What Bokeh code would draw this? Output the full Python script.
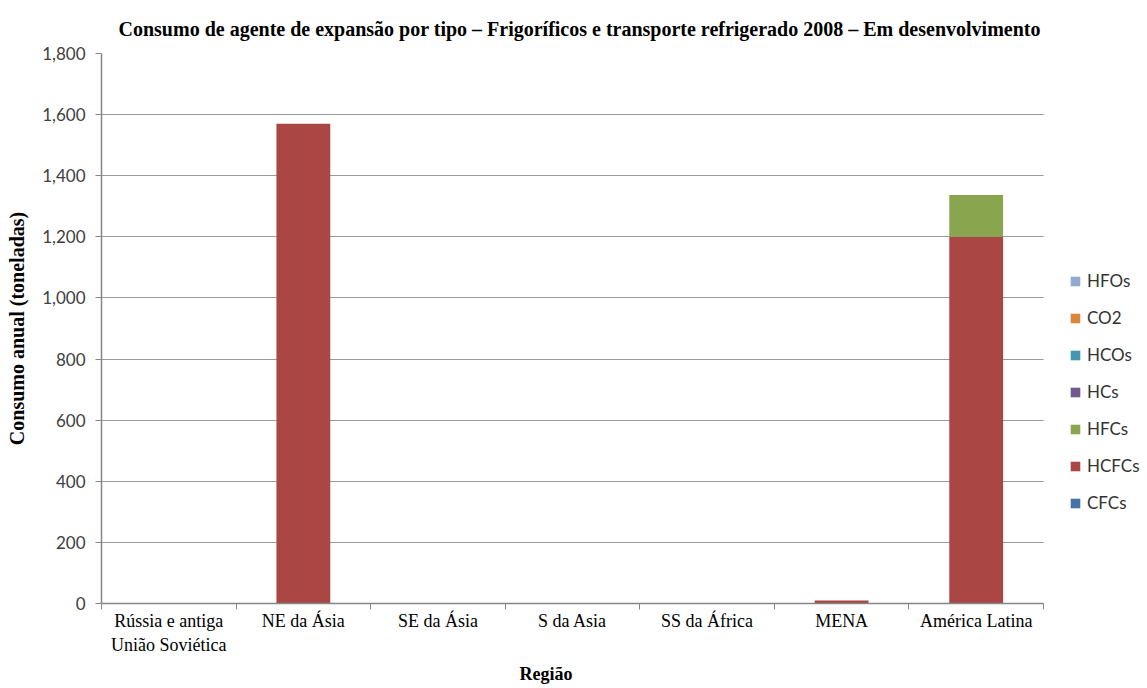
from bokeh.plotting import figure
from bokeh.models import (Range1d, FixedTicker, NumeralTickFormatter, Legend,
                          LegendItem, ColumnDataSource, Title)
from bokeh.embed import file_html
from bokeh.resources import INLINE

regions = ["Rússia e antiga\nUnião Soviética", "NE da Ásia", "SE da Ásia",
           "S da Asia", "SS da África", "MENA", "América Latina"]
types = ["CFCs", "HCFCs", "HFCs", "HCs", "HCOs", "CO2", "HFOs"]
cfcs = [0, 0, 0, 0, 0, 0, 0]
hcfcs = [0, 1570, 0, 0, 0, 10, 1200]
hfcs = [0, 0, 0, 0, 0, 0, 137]
hcs = [0, 0, 0, 0, 0, 0, 0]
hcos = [0, 0, 0, 0, 0, 0, 0]
co2 = [0, 0, 0, 0, 0, 0, 0]
hfos = [0, 0, 0, 0, 0, 0, 0]
colors = ["#4572A7", "#AA4643", "#89A54E", "#71588F", "#4198AF", "#DB843D", "#93A9CF"]
y_ticks = [0, 200, 400, 600, 800, 1000, 1200, 1400, 1600, 1800]
title_text = ("Consumo de agente de expansão por tipo – Frigoríficos e  transporte "
              "refrigerado 2008 – Em desenvolvimento")

n = len(regions)
xpos = list(range(n))
bounds = [i - 0.5 for i in range(n + 1)]
cat_span = (-0.5, n - 0.5)
# plotting frame is widened to the right to host the legend (in category units)
x_end = n - 0.5 + 0.773

src = ColumnDataSource(dict(x=xpos, CFCs=cfcs, HCFCs=hcfcs, HFCs=hfcs, HCs=hcs,
                            HCOs=hcos, CO2=co2, HFOs=hfos))

p = figure(width=1147, height=688, x_range=Range1d(-0.5, x_end), y_range=Range1d(0, 1800),
           output_backend="svg", toolbar_location=None,
           min_border_left=101, min_border_right=0, min_border_top=53, min_border_bottom=83)

rs = p.vbar_stack(types, x="x", width=0.4, fill_color=colors, line_color=None, source=src)

xa = p.below[0]
ya = p.left[0]

p.outline_line_color = None
p.xgrid.grid_line_color = None
p.ygrid.grid_line_color = "#9a9a9a"
p.ygrid.grid_line_width = 1
p.ygrid.cross_bounds = cat_span

# title
p.title.text = title_text
p.title.align = "left"
p.title.offset = 17
p.title.text_font = "Liberation Serif"
p.title.text_font_style = "bold"
p.title.text_font_size = "20px"
p.title.text_color = "#000000"
p.title.standoff = 27

# y axis
ya.ticker = FixedTicker(ticks=y_ticks, minor_ticks=[])
ya.formatter = NumeralTickFormatter(format="0,0")
ya.axis_label = "Consumo anual (toneladas)"
ya.axis_label_text_font = "Liberation Serif"
ya.axis_label_text_font_style = "bold"
ya.axis_label_text_font_size = "20px"
ya.axis_label_text_color = "#000000"
ya.axis_label_standoff = 11
ya.major_label_text_font = "Lato"
ya.major_label_text_font_size = "17px"
ya.major_label_text_color = "#404040"
ya.major_label_standoff = 10
ya.major_tick_out = 6
ya.major_tick_in = 0
ya.major_tick_line_color = "#868686"
ya.axis_line_color = "#868686"
ya.axis_line_width = 1.5

# x axis
xa.bounds = cat_span
xa.ticker = FixedTicker(ticks=xpos, minor_ticks=bounds)
xa.major_label_overrides = {i: r for i, r in zip(xpos, regions)}
xa.major_tick_out = 0
xa.major_tick_in = 0
xa.minor_tick_out = 6
xa.minor_tick_in = 0
xa.minor_tick_line_color = "#868686"
xa.axis_line_color = "#868686"
xa.axis_line_width = 1.5
xa.major_label_text_font = "Liberation Serif"
xa.major_label_text_font_size = "18px"
xa.major_label_text_color = "#000000"
xa.major_label_standoff = 1

# x axis title, placed under the category span
xtitle = Title(text="Região", align="left", offset=418, standoff=9,
               text_font="Liberation Serif", text_font_style="bold",
               text_font_size="18px", text_color="#000000")
p.add_layout(xtitle, "below")

items = [LegendItem(label=t, renderers=[r]) for t, r in reversed(list(zip(types, rs)))]
legend = Legend(items=items, location=(968, 90), padding=0, margin=0,
                glyph_width=12, glyph_height=12, label_height=20, spacing=16,
                label_standoff=6,
                label_text_font="Lato", label_text_font_size="17px",
                label_text_color="#333333", border_line_color=None,
                background_fill_alpha=0)
p.add_layout(legend)

open("out.html", "w").write(file_html(p, INLINE))
